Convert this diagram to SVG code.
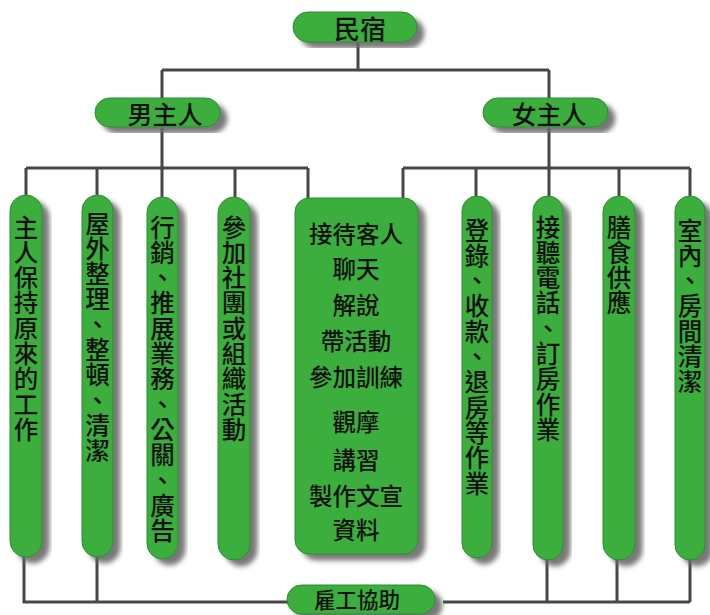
<svg xmlns="http://www.w3.org/2000/svg" width="710" height="615" viewBox="0 0 710 615">
<defs>
<filter id="sh" x="-30%" y="-10%" width="160%" height="130%">
<feDropShadow dx="7" dy="6" stdDeviation="2.4" flood-color="#6a6a6a" flood-opacity="0.9"/>
</filter>
</defs>
<style>
.n{fill:#3aae3d;stroke:#2b8e30;stroke-width:1;filter:url(#sh)}
.t{font-family:"Noto Sans CJK TC","Noto Sans CJK SC",sans-serif;font-weight:500;fill:#111;text-anchor:middle;dominant-baseline:central}
.v{font-family:"Noto Sans CJK TC","Noto Sans CJK SC",sans-serif;font-weight:500;fill:#111;font-size:24.5px;writing-mode:vertical-rl;letter-spacing:0.8px}
.c{fill:none;stroke:#474747;stroke-width:3}
</style>
<rect width="710" height="615" fill="#fff"/>
<g id="connectors" class="c">
<path d="M358 42V70M162 70H549M162 70V98M549 70V98"/>
<path d="M162 127V168M26 168H308M26 168V196M97 168V196M162 168V198M235 168V198M308 168V199"/>
<path d="M549 127V168M403 168H690M403 168V199M476 168V197M549 168V197M619 168V197M690 168V197"/>
<path d="M24 556V602H288M97 556V602M443 602H690M547 558V602M617 558V602M690 558V602"/>
</g>
<g id="minsu"><rect class="n" x="293" y="12" width="124" height="30" rx="15"/><text class="t" x="360" y="27" font-size="26">民宿</text></g>
<g id="nanzhuren"><rect class="n" x="95" y="98" width="125" height="29" rx="14.5"/><text class="t" x="165" y="113" font-size="25">男主人</text></g>
<g id="nvzhuren"><rect class="n" x="483" y="98" width="125" height="29" rx="14.5"/><text class="t" x="549" y="113" font-size="25">女主人</text></g>
<g id="c1"><rect class="n" x="10" y="195" width="32" height="362" rx="16"/><text class="v" x="26" y="215">主人保持原來的工作</text></g>
<g id="c2"><rect class="n" x="82" y="195" width="31" height="362" rx="15.5"/><text class="v" x="97.5" y="211">屋外整理、整頓、清潔</text></g>
<g id="c3"><rect class="n" x="147" y="197" width="31" height="362" rx="15.5"/><text class="v" x="162.5" y="215">行銷、推展業務、公關、廣告</text></g>
<g id="c4"><rect class="n" x="218" y="197" width="32" height="363" rx="16"/><text class="v" x="234" y="215">參加社團或組織活動</text></g>
<g id="c5"><rect class="n" x="295" y="198" width="123" height="356" rx="14"/>
<text class="t" font-size="23.5" x="356"><tspan x="356" y="233">接待客人</tspan><tspan x="356" y="268">聊天</tspan><tspan x="356" y="304">解說</tspan><tspan x="356" y="340">帶活動</tspan><tspan x="356" y="376">參加訓練</tspan><tspan x="356" y="421">觀摩</tspan><tspan x="356" y="459">講習</tspan><tspan x="356" y="495">製作文宣</tspan><tspan x="356" y="529">資料</tspan></text></g>
<g id="c6"><rect class="n" x="462" y="196" width="30" height="362" rx="15"/><text class="v" x="477" y="218">登錄、收款、退房等作業</text></g>
<g id="c7"><rect class="n" x="533" y="196" width="30" height="364" rx="15"/><text class="v" x="548" y="215">接聽電話、訂房作業</text></g>
<g id="c8"><rect class="n" x="603" y="196" width="32" height="364" rx="16"/><text class="v" x="619" y="215">膳食供應</text></g>
<g id="c9"><rect class="n" x="675" y="196" width="30" height="364" rx="15"/><text class="v" x="690" y="218">室內、房間清潔</text></g>
<g id="guyong"><rect class="n" x="287" y="585" width="148" height="29" rx="14.5"/><text class="t" x="357" y="598.5" font-size="21.5">雇工協助</text></g>
</svg>
